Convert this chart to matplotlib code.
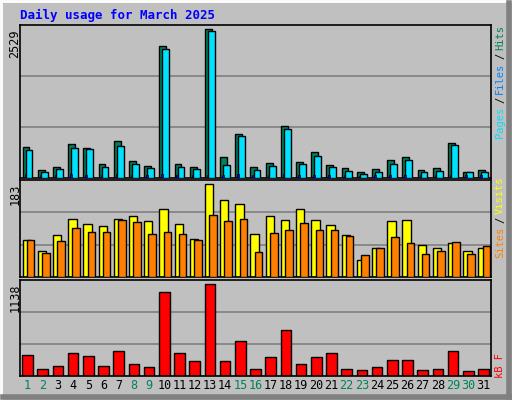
import matplotlib
matplotlib.use('Agg')
import matplotlib.pyplot as plt
import numpy as np

days = list(range(1, 32))
weekend = [1, 2, 8, 9, 15, 16, 22, 23, 29, 30]

hits = [530, 131, 183, 576, 508, 234, 628, 286, 200, 2235, 234, 183, 2529, 354, 747,
        183, 251, 884, 268, 439, 217, 166, 97, 149, 303, 354, 131, 166, 593, 97, 131]
files = [474, 108, 149, 508, 491, 183, 542, 234, 166, 2184, 183, 149, 2492, 217, 713,
         131, 200, 833, 234, 371, 183, 115, 63, 97, 234, 303, 97, 115, 559, 97, 97]
pages = [60, 50, 50, 70, 55, 50, 65, 55, 50, 60, 45, 45, 55, 50, 60,
         50, 55, 60, 55, 55, 50, 45, 40, 45, 55, 55, 45, 45, 55, 45, 45]
visits = [74, 52, 82, 115, 104, 100, 115, 121, 110, 135, 104, 76, 183, 153, 145,
          84, 121, 113, 135, 113, 102, 82, 34, 58, 110, 112, 64, 58, 68, 52, 58]
sites = [74, 48, 72, 96, 88, 88, 113, 108, 84, 88, 84, 74, 123, 110, 115,
         50, 86, 92, 106, 92, 92, 80, 44, 58, 78, 68, 46, 52, 70, 46, 62]
kbytes = [266, 91, 129, 291, 253, 129, 316, 154, 116, 1038, 291, 191, 1138, 191, 440,
          91, 241, 565, 154, 241, 291, 91, 79, 116, 203, 203, 79, 91, 316, 66, 91]

BG = '#C0C0C0'
W, H = 512, 400
fig = plt.figure(figsize=(W / 100, H / 100), dpi=100, facecolor=BG)
plt.rcParams['font.family'] = ['DejaVu Sans Mono']

def px_axes(x0, y0, x1, y1):
    ax = fig.add_axes([x0 / W, 1 - y1 / H, (x1 - x0) / W, (y1 - y0) / H])
    ax.set_facecolor(BG)
    ax.set_xlim(0.5, 31.5)
    ax.set_xticks([])
    ax.set_yticks([])
    for s in ax.spines.values():
        s.set_color('black')
        s.set_linewidth(1.2)
    return ax

x = np.array(days)

# top: hits / files / pages
ax1 = px_axes(20, 25, 491, 178)
ymax1 = 2529 * 152 / 148
ax1.set_ylim(0, ymax1)
for f in (1 / 3, 2 / 3):
    ax1.axhline(ymax1 * f, color='#808080', lw=1.2, zorder=0)
ax1.bar(x - 0.33, hits, width=0.45, align='edge', color='#00805C', edgecolor='black', lw=1, zorder=2)
ax1.bar(x - 0.13, files, width=0.45, align='edge', color='#00E0FF', edgecolor='black', lw=1, zorder=3)
ax1.bar(x - 0.2, pages, width=0.1, align='edge', color='#0000FF', edgecolor='black', lw=0.5, zorder=4)

# middle: visits / sites
ax2 = px_axes(20, 180, 491, 277)
ymax2 = 183 * 96.7 / 92.4
ax2.set_ylim(0, ymax2)
for f in (1 / 3, 2 / 3):
    ax2.axhline(ymax2 * f, color='#808080', lw=1.2, zorder=0)
ax2.bar(x - 0.33, visits, width=0.55, align='edge', color='#FFFF00', edgecolor='black', lw=1, zorder=2)
ax2.bar(x - 0.05, sites, width=0.5, align='edge', color='#FF8000', edgecolor='black', lw=1, zorder=3)

# bottom: kB
ax3 = px_axes(20, 280, 491, 376)
ymax3 = 1138 * 95.7 / 91.4
ax3.set_ylim(0, ymax3)
for f in (1 / 3, 2 / 3):
    ax3.axhline(ymax3 * f, color='#808080', lw=1.2, zorder=0)
ax3.bar(x, kbytes, width=0.7, color='#FF0000', edgecolor='black', lw=1, zorder=2)

# day labels
for d in days:
    ax3.text(d, -0.1, str(d), transform=ax3.get_xaxis_transform(), ha='center', va='center',
             fontsize=8.5, color='#00805C' if d in weekend else 'black')

def ftext(px, py, s, **kw):
    fig.text(px / W, 1 - py / H, s, **kw)

ftext(20, 15, 'Daily usage for March 2025', color='#0000FF', fontsize=9, fontweight='bold', va='center')
ftext(15, 29, '2529', rotation=90, ha='center', va='top', fontsize=8.5)
ftext(15, 184, '183', rotation=90, ha='center', va='top', fontsize=8.5)
ftext(15, 284, '1138', rotation=90, ha='center', va='top', fontsize=8.5)

# right side rotated legends
rk = dict(rotation=90, ha='center', va='bottom', fontsize=7.5)
ftext(500, 138, 'Pages', color='#00E0FF', **rk)
ftext(500, 103, '/', color='black', **rk)
ftext(500, 94, 'Files', color='#0080FF', **rk)
ftext(500, 59, '/', color='black', **rk)
ftext(500, 50, 'Hits', color='#00805C', **rk)
ftext(500, 258, 'Sites', color='#FF8000', **rk)
ftext(500, 223, '/', color='black', **rk)
ftext(500, 214, 'Visits', color='#FFFF00', **rk)
ftext(500, 378, 'kB F', color='#FF0000', **rk)

# 3D frame
fl = fig.add_axes([0, 0, 1, 1], facecolor='none')
fl.set_xlim(0, W)
fl.set_ylim(H, 0)
fl.axis('off')
fl.plot([1, W - 1], [1, 1], color='white', lw=2)
fl.plot([1, 1], [1, H - 1], color='white', lw=2)
fl.plot([W - 3, W - 3], [3, H - 3], color='#808080', lw=4)
fl.plot([3, W - 3], [H - 3, H - 3], color='#808080', lw=4)

fig.savefig('out.png', dpi=100, facecolor=BG)
